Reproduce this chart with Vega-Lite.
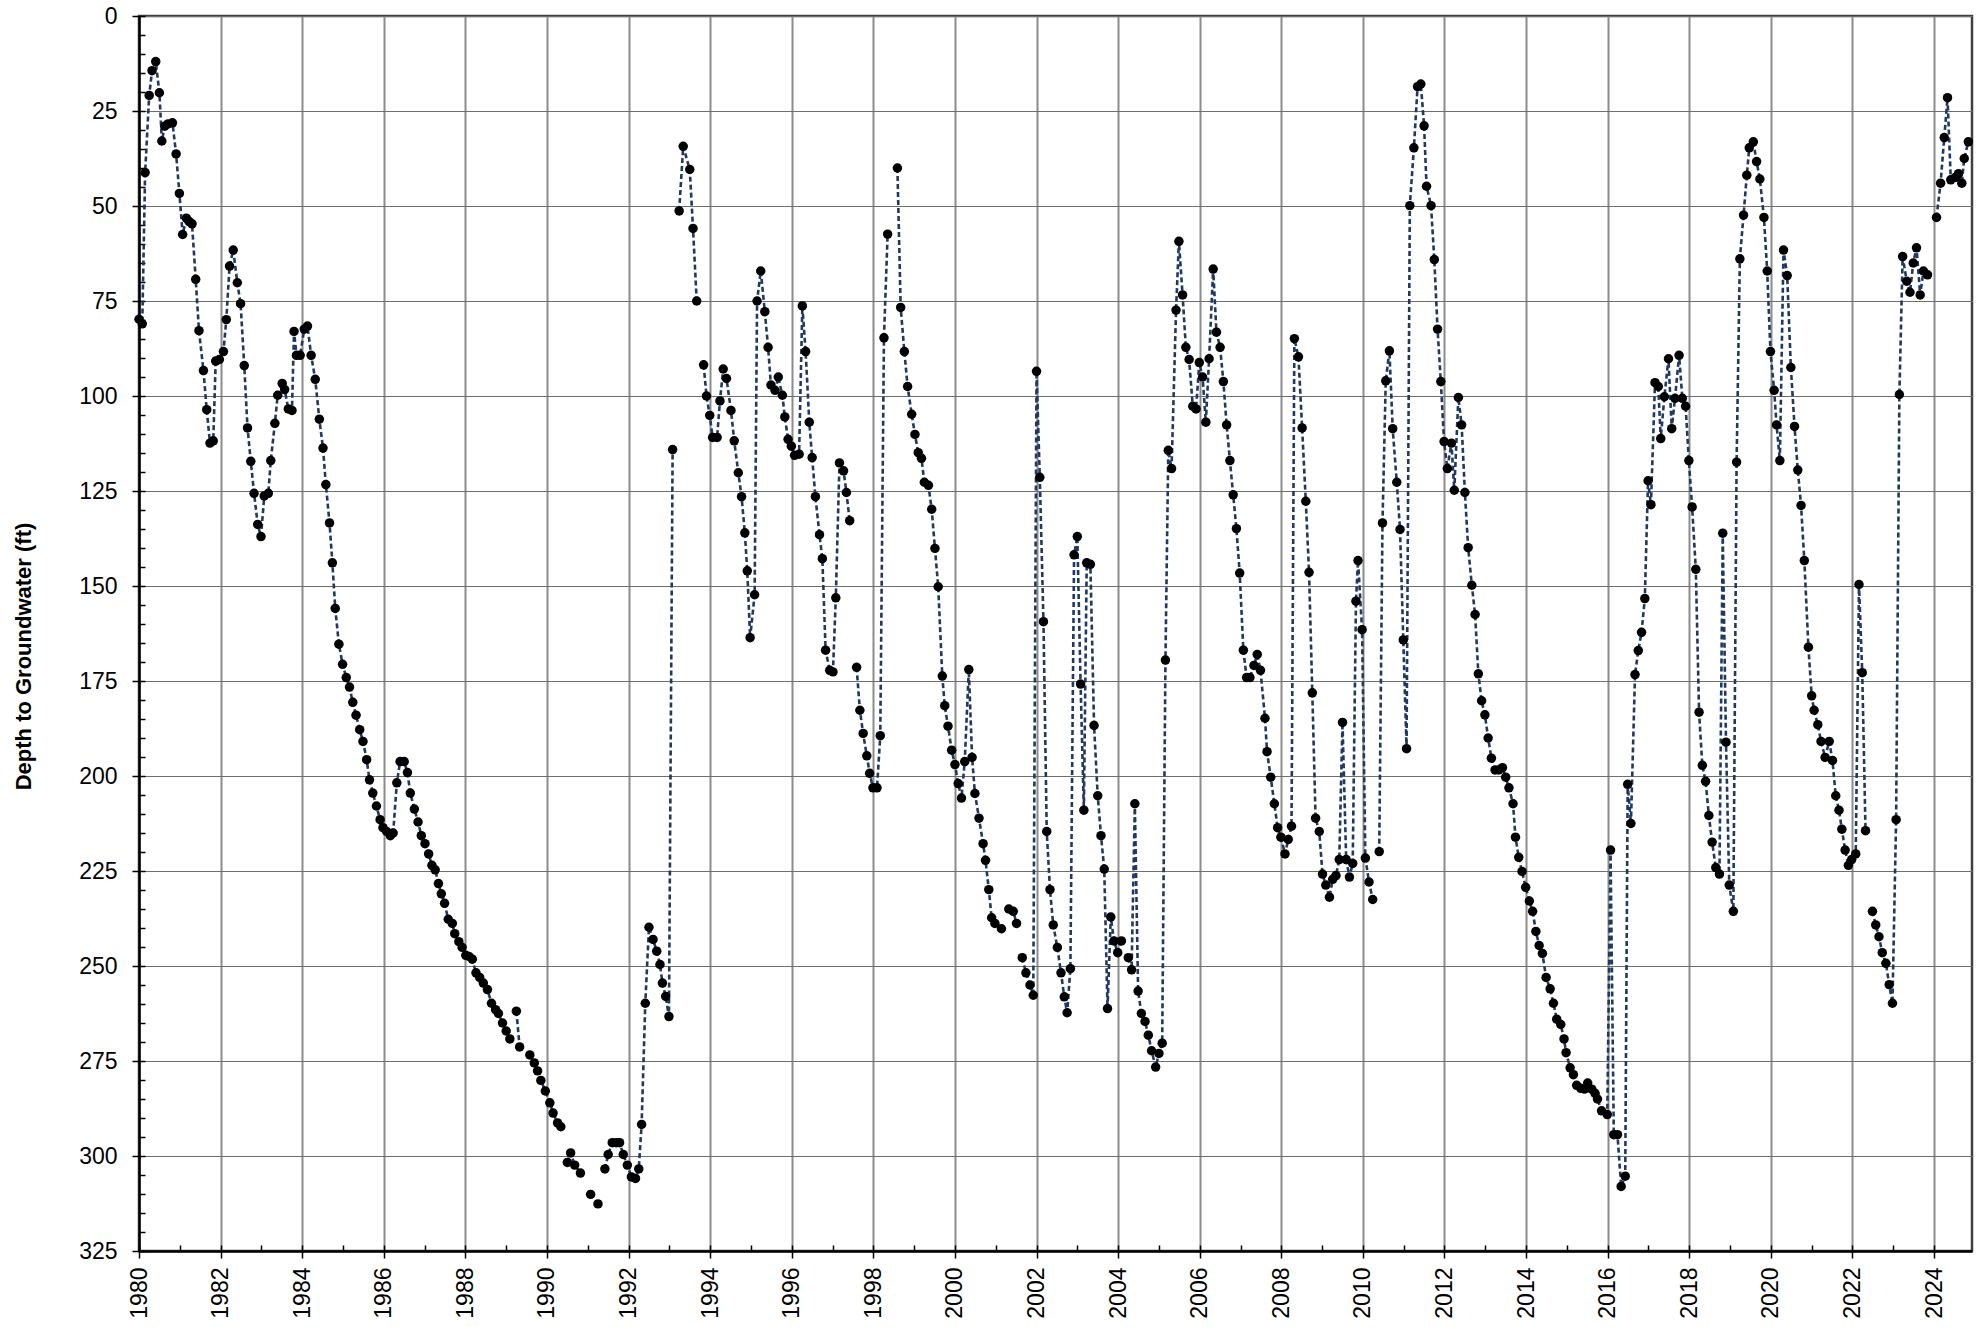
{
"$schema": "https://vega.github.io/schema/vega-lite/v6.json",
"width": 1833,
"height": 1235,
"autosize": {"type": "none"},
"padding": {"left": 139, "top": 16, "right": 8, "bottom": 76},
"background": "white",
"config": {"view": {"stroke": "#404040", "strokeWidth": 2.5}, "font": "Liberation Sans"},
"data": {"values": [
{"t":1980.00,"d":79.8,"s":1},{"t":1980.08,"d":81.0,"s":1},{"t":1980.15,"d":41.2,"s":1},{"t":1980.25,"d":20.9,"s":1},{"t":1980.32,"d":14.4,"s":1},{"t":1980.41,"d":12.0,"s":1},{"t":1980.50,"d":20.2,"s":1},{"t":1980.56,"d":32.9,"s":1},{"t":1980.63,"d":29.0,"s":1},{"t":1980.71,"d":28.4,"s":1},{"t":1980.82,"d":28.1,"s":1},{"t":1980.91,"d":36.3,"s":1},{"t":1980.99,"d":46.7,"s":1},{"t":1981.07,"d":57.5,"s":1},{"t":1981.16,"d":53.2,"s":1},{"t":1981.23,"d":54.1,"s":1},{"t":1981.30,"d":54.7,"s":1},{"t":1981.39,"d":69.3,"s":1},{"t":1981.47,"d":82.8,"s":1},{"t":1981.58,"d":93.3,"s":1},{"t":1981.66,"d":103.6,"s":1},{"t":1981.74,"d":112.4,"s":1},{"t":1981.82,"d":111.8,"s":1},{"t":1981.88,"d":90.8,"s":1},{"t":1981.97,"d":90.4,"s":1},{"t":1982.07,"d":88.3,"s":1},{"t":1982.14,"d":79.9,"s":1},{"t":1982.22,"d":65.8,"s":1},{"t":1982.31,"d":61.6,"s":1},{"t":1982.41,"d":70.2,"s":1},{"t":1982.49,"d":75.7,"s":1},{"t":1982.58,"d":92.0,"s":1},{"t":1982.66,"d":108.4,"s":1},{"t":1982.74,"d":117.2,"s":1},{"t":1982.82,"d":125.6,"s":1},{"t":1982.91,"d":133.8,"s":1},{"t":1982.99,"d":137.0,"s":1},{"t":1983.07,"d":126.3,"s":1},{"t":1983.17,"d":125.6,"s":1},{"t":1983.23,"d":117.0,"s":1},{"t":1983.33,"d":107.2,"s":1},{"t":1983.40,"d":99.8,"s":1},{"t":1983.51,"d":96.7,"s":1},{"t":1983.57,"d":98.3,"s":1},{"t":1983.66,"d":103.4,"s":1},{"t":1983.75,"d":103.8,"s":1},{"t":1983.80,"d":83.0,"s":1},{"t":1983.86,"d":89.3,"s":1},{"t":1983.95,"d":89.3,"s":1},{"t":1984.05,"d":82.4,"s":1},{"t":1984.13,"d":81.6,"s":1},{"t":1984.22,"d":89.3,"s":1},{"t":1984.32,"d":95.6,"s":1},{"t":1984.42,"d":106.1,"s":1},{"t":1984.51,"d":113.7,"s":1},{"t":1984.58,"d":123.3,"s":1},{"t":1984.67,"d":133.4,"s":1},{"t":1984.74,"d":143.9,"s":1},{"t":1984.81,"d":155.9,"s":1},{"t":1984.90,"d":165.3,"s":1},{"t":1984.99,"d":170.6,"s":1},{"t":1985.08,"d":174.1,"s":1},{"t":1985.16,"d":176.6,"s":1},{"t":1985.24,"d":180.6,"s":1},{"t":1985.32,"d":184.0,"s":1},{"t":1985.41,"d":187.8,"s":1},{"t":1985.49,"d":190.9,"s":1},{"t":1985.58,"d":195.7,"s":1},{"t":1985.65,"d":201.0,"s":1},{"t":1985.73,"d":204.5,"s":1},{"t":1985.82,"d":207.9,"s":1},{"t":1985.91,"d":211.5,"s":1},{"t":1985.98,"d":213.6,"s":1},{"t":1986.07,"d":214.6,"s":1},{"t":1986.16,"d":215.7,"s":1},{"t":1986.23,"d":215.0,"s":1},{"t":1986.32,"d":201.8,"s":1},{"t":1986.40,"d":196.2,"s":1},{"t":1986.50,"d":196.2,"s":1},{"t":1986.58,"d":199.1,"s":1},{"t":1986.65,"d":204.5,"s":1},{"t":1986.75,"d":208.7,"s":1},{"t":1986.84,"d":212.1,"s":1},{"t":1986.92,"d":215.7,"s":1},{"t":1987.01,"d":217.8,"s":1},{"t":1987.10,"d":220.5,"s":1},{"t":1987.18,"d":223.5,"s":1},{"t":1987.26,"d":224.7,"s":1},{"t":1987.34,"d":228.3,"s":1},{"t":1987.41,"d":231.0,"s":1},{"t":1987.49,"d":233.5,"s":1},{"t":1987.58,"d":237.7,"s":1},{"t":1987.68,"d":238.8,"s":1},{"t":1987.74,"d":241.5,"s":1},{"t":1987.84,"d":243.6,"s":1},{"t":1987.92,"d":245.1,"s":1},{"t":1988.01,"d":247.2,"s":1},{"t":1988.09,"d":247.5,"s":1},{"t":1988.17,"d":248.2,"s":1},{"t":1988.26,"d":251.8,"s":1},{"t":1988.35,"d":253.0,"s":1},{"t":1988.44,"d":254.5,"s":1},{"t":1988.54,"d":256.2,"s":1},{"t":1988.64,"d":259.8,"s":1},{"t":1988.74,"d":261.5,"s":1},{"t":1988.81,"d":262.5,"s":1},{"t":1988.91,"d":265.0,"s":1},{"t":1989.00,"d":267.1,"s":1},{"t":1989.09,"d":269.2,"s":1},
{"t":1989.25,"d":261.9,"s":2},{"t":1989.33,"d":271.3,"s":2},
{"t":1989.58,"d":273.4,"s":3},{"t":1989.69,"d":275.5,"s":3},{"t":1989.77,"d":277.6,"s":3},{"t":1989.85,"d":280.1,"s":3},{"t":1989.96,"d":282.9,"s":3},{"t":1990.07,"d":286.0,"s":3},{"t":1990.15,"d":288.7,"s":3},{"t":1990.26,"d":291.3,"s":3},{"t":1990.34,"d":292.3,"s":3},
{"t":1990.50,"d":301.7,"s":4},{"t":1990.58,"d":299.2,"s":4},{"t":1990.68,"d":302.4,"s":4},{"t":1990.82,"d":304.5,"s":4},
{"t":1991.07,"d":310.1,"s":5},
{"t":1991.25,"d":312.6,"s":6},
{"t":1991.42,"d":303.4,"s":7},{"t":1991.50,"d":299.6,"s":7},{"t":1991.60,"d":296.5,"s":7},{"t":1991.70,"d":296.5,"s":7},{"t":1991.78,"d":296.5,"s":7},{"t":1991.87,"d":299.6,"s":7},{"t":1991.97,"d":302.4,"s":7},{"t":1992.07,"d":305.5,"s":7},{"t":1992.17,"d":305.9,"s":7},{"t":1992.25,"d":303.4,"s":7},{"t":1992.32,"d":291.7,"s":7},{"t":1992.41,"d":259.8,"s":7},{"t":1992.50,"d":239.8,"s":7},{"t":1992.60,"d":243.0,"s":7},{"t":1992.69,"d":246.1,"s":7},{"t":1992.77,"d":249.6,"s":7},{"t":1992.83,"d":254.5,"s":7},{"t":1992.91,"d":258.0,"s":7},{"t":1992.99,"d":263.3,"s":7},{"t":1993.08,"d":114.1,"s":7},
{"t":1993.24,"d":51.3,"s":8},{"t":1993.34,"d":34.3,"s":8},{"t":1993.50,"d":40.4,"s":8},{"t":1993.58,"d":55.9,"s":8},{"t":1993.67,"d":75.0,"s":8},
{"t":1993.84,"d":91.8,"s":9},{"t":1993.91,"d":100.0,"s":9},{"t":1993.99,"d":105.1,"s":9},{"t":1994.06,"d":110.9,"s":9},{"t":1994.17,"d":110.9,"s":9},{"t":1994.24,"d":101.3,"s":9},{"t":1994.32,"d":92.9,"s":9},{"t":1994.40,"d":95.4,"s":9},{"t":1994.51,"d":103.8,"s":9},{"t":1994.59,"d":111.8,"s":9},{"t":1994.69,"d":120.2,"s":9},{"t":1994.77,"d":126.5,"s":9},{"t":1994.85,"d":136.0,"s":9},{"t":1994.91,"d":146.0,"s":9},{"t":1994.98,"d":163.6,"s":9},{"t":1995.09,"d":152.3,"s":9},{"t":1995.15,"d":75.0,"s":9},{"t":1995.24,"d":67.1,"s":9},{"t":1995.34,"d":77.8,"s":9},{"t":1995.42,"d":87.2,"s":9},{"t":1995.49,"d":97.1,"s":9},{"t":1995.59,"d":98.5,"s":9},{"t":1995.67,"d":95.0,"s":9},{"t":1995.77,"d":99.8,"s":9},{"t":1995.83,"d":105.5,"s":9},{"t":1995.91,"d":111.4,"s":9},{"t":1995.99,"d":113.2,"s":9},{"t":1996.07,"d":115.6,"s":9},{"t":1996.18,"d":115.3,"s":9},{"t":1996.26,"d":76.3,"s":9},{"t":1996.34,"d":88.3,"s":9},{"t":1996.43,"d":106.9,"s":9},{"t":1996.50,"d":116.2,"s":9},{"t":1996.58,"d":126.5,"s":9},{"t":1996.68,"d":136.5,"s":9},{"t":1996.75,"d":142.8,"s":9},{"t":1996.83,"d":166.9,"s":9},{"t":1996.93,"d":172.2,"s":9},{"t":1997.01,"d":172.6,"s":9},{"t":1997.08,"d":153.1,"s":9},{"t":1997.17,"d":117.6,"s":9},{"t":1997.27,"d":119.7,"s":9},{"t":1997.34,"d":125.4,"s":9},{"t":1997.42,"d":132.8,"s":9},
{"t":1997.59,"d":171.4,"s":10},{"t":1997.67,"d":182.7,"s":10},{"t":1997.75,"d":188.8,"s":10},{"t":1997.84,"d":194.7,"s":10},{"t":1997.91,"d":199.3,"s":10},{"t":1997.99,"d":203.1,"s":10},{"t":1998.09,"d":203.1,"s":10},{"t":1998.17,"d":189.4,"s":10},{"t":1998.26,"d":84.7,"s":10},{"t":1998.35,"d":57.4,"s":10},
{"t":1998.59,"d":40.0,"s":11},{"t":1998.67,"d":76.7,"s":11},{"t":1998.76,"d":88.3,"s":11},{"t":1998.84,"d":97.5,"s":11},{"t":1998.94,"d":104.8,"s":11},{"t":1999.02,"d":110.1,"s":11},{"t":1999.10,"d":114.9,"s":11},{"t":1999.18,"d":116.4,"s":11},{"t":1999.25,"d":122.7,"s":11},{"t":1999.35,"d":123.5,"s":11},{"t":1999.43,"d":129.8,"s":11},{"t":1999.51,"d":140.1,"s":11},{"t":1999.59,"d":150.2,"s":11},{"t":1999.69,"d":173.7,"s":11},{"t":1999.75,"d":181.5,"s":11},{"t":1999.83,"d":186.9,"s":11},{"t":1999.92,"d":193.2,"s":11},{"t":2000.00,"d":197.0,"s":11},{"t":2000.08,"d":202.0,"s":11},{"t":2000.16,"d":205.8,"s":11},{"t":2000.24,"d":196.2,"s":11},{"t":2000.34,"d":172.0,"s":11},{"t":2000.42,"d":195.1,"s":11},{"t":2000.49,"d":204.6,"s":11},{"t":2000.59,"d":211.1,"s":11},{"t":2000.69,"d":217.8,"s":11},{"t":2000.75,"d":222.2,"s":11},{"t":2000.83,"d":229.9,"s":11},{"t":2000.90,"d":237.3,"s":11},{"t":2000.98,"d":238.8,"s":11},{"t":2001.14,"d":240.2,"s":11},
{"t":2001.32,"d":235.0,"s":12},{"t":2001.43,"d":235.6,"s":12},{"t":2001.51,"d":238.8,"s":12},
{"t":2001.65,"d":247.8,"s":13},{"t":2001.74,"d":251.8,"s":13},{"t":2001.84,"d":255.0,"s":13},{"t":2001.92,"d":257.7,"s":13},{"t":2002.00,"d":93.5,"s":13},{"t":2002.08,"d":121.4,"s":13},{"t":2002.17,"d":159.4,"s":13},{"t":2002.25,"d":214.6,"s":13},{"t":2002.33,"d":229.9,"s":13},{"t":2002.41,"d":239.2,"s":13},{"t":2002.51,"d":245.1,"s":13},{"t":2002.60,"d":251.8,"s":13},{"t":2002.68,"d":258.1,"s":13},{"t":2002.75,"d":262.3,"s":13},{"t":2002.83,"d":250.7,"s":13},{"t":2002.92,"d":141.8,"s":13},{"t":2003.00,"d":137.0,"s":13},{"t":2003.08,"d":175.8,"s":13},{"t":2003.16,"d":209.0,"s":13},{"t":2003.23,"d":143.9,"s":13},{"t":2003.32,"d":144.3,"s":13},{"t":2003.41,"d":186.7,"s":13},{"t":2003.50,"d":205.2,"s":13},{"t":2003.58,"d":215.7,"s":13},{"t":2003.66,"d":224.5,"s":13},{"t":2003.74,"d":261.2,"s":13},{"t":2003.82,"d":237.1,"s":13},{"t":2003.90,"d":243.4,"s":13},{"t":2003.99,"d":246.5,"s":13},{"t":2004.08,"d":243.4,"s":13},
{"t":2004.25,"d":247.8,"s":14},{"t":2004.33,"d":251.0,"s":14},{"t":2004.41,"d":207.3,"s":14},{"t":2004.49,"d":256.6,"s":14},{"t":2004.57,"d":262.5,"s":14},{"t":2004.66,"d":264.6,"s":14},{"t":2004.74,"d":268.2,"s":14},{"t":2004.82,"d":272.3,"s":14},{"t":2004.92,"d":276.6,"s":14},{"t":2005.00,"d":273.0,"s":14},{"t":2005.08,"d":270.3,"s":14},{"t":2005.16,"d":169.5,"s":14},{"t":2005.23,"d":114.3,"s":14},{"t":2005.31,"d":119.1,"s":14},{"t":2005.42,"d":77.4,"s":14},{"t":2005.49,"d":59.3,"s":14},{"t":2005.58,"d":73.4,"s":14},{"t":2005.66,"d":87.2,"s":14},{"t":2005.74,"d":90.4,"s":14},{"t":2005.83,"d":102.7,"s":14},{"t":2005.91,"d":103.4,"s":14},{"t":2005.99,"d":91.2,"s":14},{"t":2006.07,"d":95.0,"s":14},{"t":2006.15,"d":106.9,"s":14},{"t":2006.23,"d":90.2,"s":14},{"t":2006.33,"d":66.6,"s":14},{"t":2006.41,"d":83.2,"s":14},{"t":2006.50,"d":87.2,"s":14},{"t":2006.58,"d":96.2,"s":14},{"t":2006.66,"d":107.6,"s":14},{"t":2006.74,"d":117.0,"s":14},{"t":2006.82,"d":126.0,"s":14},{"t":2006.90,"d":134.9,"s":14},{"t":2006.98,"d":146.6,"s":14},{"t":2007.07,"d":166.9,"s":14},{"t":2007.15,"d":174.1,"s":14},{"t":2007.23,"d":174.1,"s":14},{"t":2007.33,"d":170.9,"s":14},{"t":2007.41,"d":168.0,"s":14},{"t":2007.49,"d":172.2,"s":14},{"t":2007.60,"d":184.8,"s":14},{"t":2007.65,"d":193.6,"s":14},{"t":2007.74,"d":200.3,"s":14},{"t":2007.83,"d":207.3,"s":14},{"t":2007.91,"d":213.6,"s":14},{"t":2007.99,"d":216.1,"s":14},{"t":2008.09,"d":220.5,"s":14},{"t":2008.17,"d":216.7,"s":14},{"t":2008.25,"d":213.2,"s":14},{"t":2008.32,"d":84.9,"s":14},{"t":2008.42,"d":89.7,"s":14},{"t":2008.51,"d":108.4,"s":14},{"t":2008.60,"d":127.7,"s":14},{"t":2008.68,"d":146.4,"s":14},{"t":2008.76,"d":178.1,"s":14},{"t":2008.84,"d":211.1,"s":14},{"t":2008.93,"d":214.6,"s":14},{"t":2009.01,"d":225.8,"s":14},{"t":2009.09,"d":228.7,"s":14},{"t":2009.18,"d":231.9,"s":14},{"t":2009.26,"d":227.2,"s":14},{"t":2009.34,"d":226.2,"s":14},{"t":2009.42,"d":222.0,"s":14},{"t":2009.50,"d":185.9,"s":14},{"t":2009.59,"d":222.0,"s":14},{"t":2009.67,"d":226.6,"s":14},{"t":2009.75,"d":223.0,"s":14},{"t":2009.83,"d":154.0,"s":14},{"t":2009.88,"d":143.3,"s":14},{"t":2009.98,"d":161.5,"s":14},{"t":2010.06,"d":221.6,"s":14},{"t":2010.15,"d":227.9,"s":14},{"t":2010.24,"d":232.5,"s":14},
{"t":2010.40,"d":219.9,"s":15},{"t":2010.48,"d":133.4,"s":15},{"t":2010.56,"d":96.0,"s":15},{"t":2010.65,"d":88.1,"s":15},{"t":2010.73,"d":108.6,"s":15},{"t":2010.83,"d":122.7,"s":15},{"t":2010.91,"d":135.1,"s":15},{"t":2010.99,"d":164.2,"s":15},{"t":2011.07,"d":192.8,"s":15},{"t":2011.15,"d":49.9,"s":15},{"t":2011.25,"d":34.7,"s":15},{"t":2011.34,"d":18.6,"s":15},{"t":2011.42,"d":17.9,"s":15},{"t":2011.50,"d":28.9,"s":15},{"t":2011.56,"d":44.8,"s":15},{"t":2011.67,"d":49.9,"s":15},{"t":2011.75,"d":64.1,"s":15},{"t":2011.83,"d":82.4,"s":15},{"t":2011.91,"d":96.2,"s":15},{"t":2011.99,"d":112.0,"s":15},{"t":2012.07,"d":119.1,"s":15},{"t":2012.17,"d":112.4,"s":15},{"t":2012.24,"d":124.8,"s":15},{"t":2012.34,"d":100.4,"s":15},{"t":2012.42,"d":107.6,"s":15},{"t":2012.50,"d":125.4,"s":15},{"t":2012.58,"d":139.9,"s":15},{"t":2012.67,"d":149.8,"s":15},{"t":2012.75,"d":157.5,"s":15},{"t":2012.83,"d":173.1,"s":15},{"t":2012.91,"d":180.2,"s":15},{"t":2012.99,"d":183.9,"s":15},{"t":2013.07,"d":190.0,"s":15},{"t":2013.15,"d":195.3,"s":15},{"t":2013.24,"d":198.4,"s":15},{"t":2013.33,"d":198.4,"s":15},{"t":2013.42,"d":197.8,"s":15},{"t":2013.50,"d":200.3,"s":15},{"t":2013.58,"d":203.1,"s":15},{"t":2013.68,"d":207.3,"s":15},{"t":2013.74,"d":216.1,"s":15},{"t":2013.82,"d":221.4,"s":15},{"t":2013.90,"d":225.1,"s":15},{"t":2013.99,"d":229.3,"s":15},{"t":2014.08,"d":232.9,"s":15},{"t":2014.16,"d":235.6,"s":15},{"t":2014.24,"d":240.9,"s":15},{"t":2014.32,"d":244.6,"s":15},{"t":2014.40,"d":246.7,"s":15},{"t":2014.49,"d":253.0,"s":15},{"t":2014.59,"d":256.0,"s":15},{"t":2014.67,"d":259.8,"s":15},{"t":2014.75,"d":264.0,"s":15},{"t":2014.85,"d":265.4,"s":15},{"t":2014.93,"d":269.2,"s":15},{"t":2014.98,"d":272.8,"s":15},{"t":2015.08,"d":276.8,"s":15},{"t":2015.16,"d":278.6,"s":15},{"t":2015.24,"d":281.4,"s":15},{"t":2015.34,"d":282.2,"s":15},{"t":2015.43,"d":282.4,"s":15},{"t":2015.51,"d":280.8,"s":15},{"t":2015.61,"d":282.4,"s":15},{"t":2015.69,"d":283.5,"s":15},{"t":2015.75,"d":285.0,"s":15},{"t":2015.85,"d":288.1,"s":15},{"t":2015.99,"d":289.1,"s":15},{"t":2016.07,"d":219.5,"s":15},{"t":2016.15,"d":294.4,"s":15},{"t":2016.24,"d":294.4,"s":15},{"t":2016.33,"d":308.0,"s":15},{"t":2016.43,"d":305.3,"s":15},{"t":2016.49,"d":202.2,"s":15},{"t":2016.57,"d":212.5,"s":15},{"t":2016.67,"d":173.3,"s":15},{"t":2016.75,"d":167.0,"s":15},{"t":2016.83,"d":162.2,"s":15},{"t":2016.91,"d":153.3,"s":15},{"t":2016.99,"d":122.3,"s":15},{"t":2017.06,"d":128.6,"s":15},{"t":2017.16,"d":96.5,"s":15},{"t":2017.24,"d":97.5,"s":15},{"t":2017.30,"d":111.2,"s":15},{"t":2017.39,"d":100.2,"s":15},{"t":2017.49,"d":90.2,"s":15},{"t":2017.57,"d":108.6,"s":15},{"t":2017.65,"d":100.6,"s":15},{"t":2017.75,"d":89.3,"s":15},{"t":2017.83,"d":100.6,"s":15},{"t":2017.91,"d":102.7,"s":15},{"t":2017.99,"d":117.0,"s":15},{"t":2018.07,"d":129.2,"s":15},{"t":2018.16,"d":145.6,"s":15},{"t":2018.24,"d":183.2,"s":15},{"t":2018.32,"d":197.2,"s":15},{"t":2018.40,"d":201.4,"s":15},{"t":2018.48,"d":210.4,"s":15},{"t":2018.56,"d":217.4,"s":15},{"t":2018.65,"d":224.1,"s":15},{"t":2018.74,"d":225.8,"s":15},{"t":2018.82,"d":136.1,"s":15},{"t":2018.90,"d":191.1,"s":15},{"t":2018.98,"d":228.7,"s":15},{"t":2019.08,"d":235.6,"s":15},{"t":2019.16,"d":117.4,"s":15},{"t":2019.24,"d":63.9,"s":15},{"t":2019.33,"d":52.4,"s":15},{"t":2019.41,"d":41.9,"s":15},{"t":2019.47,"d":34.7,"s":15},{"t":2019.57,"d":33.1,"s":15},{"t":2019.65,"d":38.3,"s":15},{"t":2019.73,"d":42.9,"s":15},{"t":2019.83,"d":53.0,"s":15},{"t":2019.91,"d":67.1,"s":15},{"t":2019.99,"d":88.3,"s":15},{"t":2020.08,"d":98.5,"s":15},{"t":2020.14,"d":107.6,"s":15},{"t":2020.22,"d":117.0,"s":15},{"t":2020.31,"d":61.6,"s":15},{"t":2020.40,"d":68.3,"s":15},{"t":2020.49,"d":92.5,"s":15},{"t":2020.58,"d":108.0,"s":15},{"t":2020.66,"d":119.5,"s":15},{"t":2020.74,"d":128.8,"s":15},{"t":2020.82,"d":143.3,"s":15},{"t":2020.92,"d":166.1,"s":15},{"t":2021.00,"d":178.9,"s":15},{"t":2021.06,"d":182.7,"s":15},{"t":2021.15,"d":186.5,"s":15},{"t":2021.23,"d":190.9,"s":15},{"t":2021.33,"d":195.1,"s":15},{"t":2021.43,"d":190.9,"s":15},{"t":2021.51,"d":195.9,"s":15},{"t":2021.59,"d":205.2,"s":15},{"t":2021.67,"d":209.0,"s":15},{"t":2021.74,"d":214.0,"s":15},{"t":2021.82,"d":219.5,"s":15},{"t":2021.90,"d":223.5,"s":15},{"t":2021.98,"d":222.0,"s":15},{"t":2022.08,"d":220.5,"s":15},{"t":2022.16,"d":149.6,"s":15},{"t":2022.24,"d":172.8,"s":15},{"t":2022.32,"d":214.4,"s":15},
{"t":2022.49,"d":235.6,"s":16},{"t":2022.57,"d":239.2,"s":16},{"t":2022.65,"d":242.3,"s":16},{"t":2022.73,"d":246.5,"s":16},{"t":2022.82,"d":249.3,"s":16},{"t":2022.90,"d":254.9,"s":16},{"t":2022.98,"d":259.8,"s":16},{"t":2023.07,"d":211.5,"s":16},{"t":2023.15,"d":99.6,"s":16},{"t":2023.23,"d":63.3,"s":16},{"t":2023.33,"d":69.8,"s":16},{"t":2023.41,"d":72.7,"s":16},{"t":2023.49,"d":65.0,"s":16},{"t":2023.57,"d":61.0,"s":16},{"t":2023.66,"d":73.4,"s":16},{"t":2023.74,"d":67.1,"s":16},{"t":2023.84,"d":68.1,"s":16},
{"t":2024.06,"d":53.0,"s":17},{"t":2024.16,"d":44.0,"s":17},{"t":2024.25,"d":32.0,"s":17},{"t":2024.33,"d":21.5,"s":17},{"t":2024.41,"d":43.1,"s":17},{"t":2024.52,"d":42.5,"s":17},{"t":2024.60,"d":41.5,"s":17},{"t":2024.68,"d":44.0,"s":17},{"t":2024.74,"d":37.5,"s":17},{"t":2024.84,"d":33.1,"s":17}
]},
"layer": [
{
"mark": {"type": "line", "color": "#1F3864", "strokeWidth": 2.6, "strokeDash": [5, 3]},
"encoding": {
"x": {"field": "t", "type": "quantitative", "scale": {"domain": [1980, 2024.93], "nice": false, "zero": false},
"axis": {"orient": "bottom", "values": [1980,1981,1982,1983,1984,1985,1986,1987,1988,1989,1990,1991,1992,1993,1994,1995,1996,1997,1998,1999,2000,2001,2002,2003,2004,2005,2006,2007,2008,2009,2010,2011,2012,2013,2014,2015,2016,2017,2018,2019,2020,2021,2022,2023,2024], "offset": -6, "tickSize": 6, "tickColor": "#000000", "tickWidth": 1.5, "domain": false, "labels": false, "grid": false, "title": null}},
"y": {"field": "d", "type": "quantitative", "scale": {"domain": [0, 325], "reverse": true, "nice": false, "zero": false},
"axis": {"orient": "left", "values": [0,5,10,15,20,25,30,35,40,45,50,55,60,65,70,75,80,85,90,95,100,105,110,115,120,125,130,135,140,145,150,155,160,165,170,175,180,185,190,195,200,205,210,215,220,225,230,235,240,245,250,255,260,265,270,275,280,285,290,295,300,305,310,315,320,325], "offset": -6, "tickSize": 6, "tickColor": "#000000", "tickWidth": 1.5, "domain": false, "labels": false, "grid": false, "title": null}},
"detail": {"field": "s", "type": "nominal"}
}
},
{
"mark": {"type": "point", "filled": true, "color": "#000000", "size": 90, "opacity": 1},
"encoding": {
"x": {"field": "t", "type": "quantitative",
"axis": {"orient": "bottom", "values": [1980,1982,1984,1986,1988,1990,1992,1994,1996,1998,2000,2002,2004,2006,2008,2010,2012,2014,2016,2018,2020,2022,2024], "format": "d", "labelAngle": 270, "labelAlign": "right", "labelBaseline": "middle", "labelFont": "Liberation Sans", "labelFontSize": 23, "labelColor": "#000000", "labelPadding": 9, "labelFlush": false, "labelOverlap": false, "tickSize": 7, "tickColor": "#000000", "tickWidth": 1.5, "domainColor": "#000000", "domainWidth": 2.5, "grid": true, "gridColor": "#8c8c8c", "gridWidth": 2, "title": null}},
"y": {"field": "d", "type": "quantitative",
"axis": {"orient": "left", "values": [0,25,50,75,100,125,150,175,200,225,250,275,300,325], "labelFont": "Liberation Sans", "labelFontSize": 23, "labelColor": "#000000", "labelPadding": 15, "labelFlush": false, "labelOverlap": false, "tickSize": 7, "tickColor": "#000000", "tickWidth": 1.5, "domainColor": "#000000", "domainWidth": 2.5, "grid": true, "gridColor": "#6e6e6e", "gridWidth": 1.2, "title": "Depth to Groundwater (ft)", "titleFont": "Liberation Sans", "titleFontSize": 22, "titleFontWeight": "bold", "titleColor": "#000000", "titleAngle": 270, "titleX": -116, "titleY": 640, "titleAlign": "center", "titleBaseline": "middle"}}
}
}
],
"resolve": {"axis": {"x": "independent", "y": "independent"}}
}
